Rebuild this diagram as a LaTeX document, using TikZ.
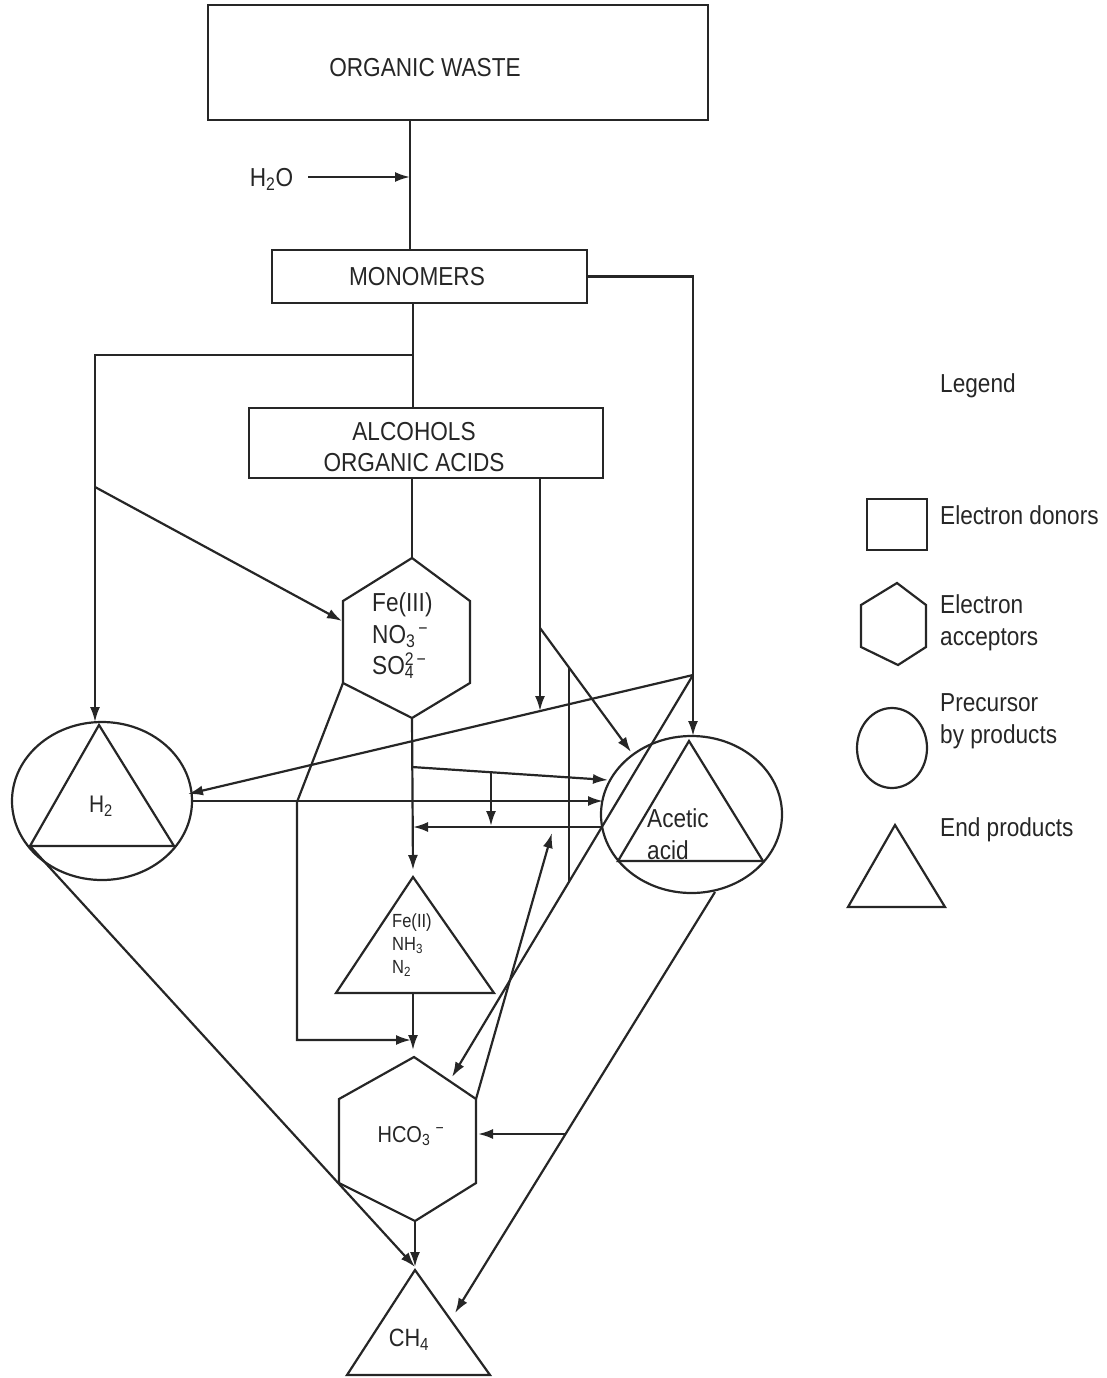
\documentclass[tikz,border=0pt]{standalone}
\usepackage{fontspec}
\setmainfont{Liberation Sans}[FakeStretch=0.87]
\usetikzlibrary{arrows.meta,shapes.geometric}
\newcommand{\ionsub}[2]{\rlap{\textsubscript{#1}}\textsuperscript{#2}}
\tikzset{
	flow/.style={line width=2.2pt, draw=black!85},
	box/.style={draw=black!85, line width=2.2pt, rectangle, inner sep=0pt},
	blob/.style={draw=black!85, line width=2.2pt, ellipse, inner sep=0pt},
	lbl/.style={text=black!85, font=\fontsize{26}{31.5}\selectfont, inner sep=0pt},
	small/.style={text=black!85, font=\fontsize{19}{23}\selectfont, inner sep=0pt}
}
\begin{document}
\begin{tikzpicture}[x=1pt, y=-1pt, >={Latex[length=15pt,width=10pt]}]
	\useasboundingbox (0,0) rectangle (1107,1378);

	% donors
	\node[box, minimum width=500pt, minimum height=115pt]	(waste) at (458,62.5) {};
	\node[lbl]	(wastetxt) at (425,68) {ORGANIC WASTE};
	\node[box, minimum width=315pt, minimum height=53pt]	(mono) at (429.5,276.5) {};
	\node[lbl]	(monotxt) at (417,277) {MONOMERS};
	\node[box, minimum width=354pt, minimum height=70pt]	(alco) at (426,443) {};
	\node[lbl, align=center]	(alcotxt) at (414,447) {ALCOHOLS\\ORGANIC ACIDS};
	\node[lbl]	(h2o) at (271.5,179) {H\textsubscript{2}O};

	% acceptors
	\coordinate (fe3-t) at (412,558);	\coordinate (fe3-ur) at (470,601);
	\coordinate (fe3-lr) at (470,683);	\coordinate (fe3-b) at (412,718);
	\coordinate (fe3-ll) at (343,683);	\coordinate (fe3-ul) at (343,601);
	\draw[flow] (fe3-t) -- (fe3-ur) -- (fe3-lr) -- (fe3-b) -- (fe3-ll) -- (fe3-ul) -- cycle;
	\node[lbl, anchor=west, align=left]	(fe3txt) at (372,636) {Fe(III)\\NO\textsubscript{3}\textsuperscript{\,−}\\SO\ionsub{4}{2\,−}};

	\coordinate (hco3-t) at (414,1057);	\coordinate (hco3-ur) at (476,1099);
	\coordinate (hco3-lr) at (476,1183);	\coordinate (hco3-b) at (415,1221);
	\coordinate (hco3-ll) at (339,1183);	\coordinate (hco3-ul) at (339,1099);
	\draw[flow] (hco3-t) -- (hco3-ur) -- (hco3-lr) -- (hco3-b) -- (hco3-ll) -- (hco3-ul) -- cycle;
	\node[lbl, font=\fontsize{23}{27}\selectfont]	(hco3txt) at (411,1136) {HCO\textsubscript{3}\textsuperscript{\,\,−}};

	% precursors and end products
	\node[blob, minimum width=180pt, minimum height=158pt]	(h2) at (102,801) {};
	\coordinate (h2-t) at (99,725);	\coordinate (h2-bl) at (30,846);	\coordinate (h2-br) at (174,846);
	\draw[flow] (h2-t) -- (h2-br) -- (h2-bl) -- cycle;
	\node[lbl, font=\fontsize{24}{28}\selectfont]	(h2txt) at (101,806) {H\textsubscript{2}};

	\node[blob, minimum width=181pt, minimum height=157pt]	(ace) at (691.5,814.5) {};
	\coordinate (ace-t) at (689,741);	\coordinate (ace-bl) at (618,861);	\coordinate (ace-br) at (763,861);
	\draw[flow] (ace-t) -- (ace-br) -- (ace-bl) -- cycle;
	\node[lbl, anchor=west, align=left, font=\fontsize{26}{32}\selectfont]	(acetxt) at (647,834) {Acetic\\acid};

	\coordinate (fe2-t) at (413,877);	\coordinate (fe2-bl) at (336,993);	\coordinate (fe2-br) at (494,993);
	\draw[flow] (fe2-t) -- (fe2-br) -- (fe2-bl) -- cycle;
	\node[small, anchor=west, align=left]	(fe2txt) at (392,945) {Fe(II)\\NH\textsubscript{3}\\N\textsubscript{2}};

	\coordinate (ch4-t) at (415,1270);	\coordinate (ch4-bl) at (347,1375);	\coordinate (ch4-br) at (490,1375);
	\draw[flow] (ch4-t) -- (ch4-br) -- (ch4-bl) -- cycle;
	\node[lbl, font=\fontsize{25}{30}\selectfont]	(ch4txt) at (409,1340) {CH\textsubscript{4}};

	% junctions and arrow tips
	\coordinate (wm) at (410,177);
	\coordinate (ma) at (413,355);
	\coordinate (hl) at (95,487);
	\coordinate (h2N) at (95,722);
	\coordinate (fe3in) at (342,621);
	\coordinate (ar) at (540,628);
	\coordinate (aj) at (540,711);
	\coordinate (aceNW) at (631,752);
	\coordinate (aceN) at (693,736);
	\coordinate (mr) at (693,675);
	\coordinate (h2E) at (188,794);
	\coordinate (hco3in) at (452,1077);
	\coordinate (va) at (569,668);
	\coordinate (vb) at (569,882);
	\coordinate (fe2in) at (413,870);
	\coordinate (fb) at (412,767);
	\coordinate (aceW1) at (608,780);
	\coordinate (fbd) at (491,772);
	\coordinate (qd) at (491,826);
	\coordinate (aceW2) at (603,801);
	\coordinate (aceW3) at (601,827);
	\coordinate (qm) at (413,827);
	\coordinate (qu) at (552,833);
	\coordinate (lk) at (297,802);
	\coordinate (lb) at (297,1040);
	\coordinate (hco3top) at (411,1040);
	\coordinate (fe2out) at (413,993);
	\coordinate (hco3in2) at (413,1050);
	\coordinate (ch4in) at (415,1267);
	\coordinate (ab) at (715,892);
	\coordinate (ch4R) at (455,1313);
	\coordinate (aw) at (566,1134);
	\coordinate (hco3R) at (478,1134);

	% connectors
	\draw[flow]		(waste.south -| wm) to (mono.north -| wm);
	\draw[flow, ->]	([xshift=15pt]h2o.east |- wm) to (wm);
	\draw[flow, ->]	(mono.east) -| (aceN);
	\draw[flow]		(mono.south -| ma) to (alco.north -| ma);
	\draw[flow, ->]	(ma) -| (h2N);
	\draw[flow, ->]	(hl) to (fe3in);
	\draw[flow]		(alco.south -| fe3-t) to (fe3-t);
	\draw[flow, ->]	(alco.south -| ar) to (aj);
	\draw[flow, ->]	(ar) to (aceNW);
	\draw[flow, ->]	(mr) to (h2E);
	\draw[flow, ->]	(mr) to (hco3in);
	\draw[flow]		(va) to (vb);
	\draw[flow, ->]	(fe3-b) to (fe2in);
	\draw[flow, ->]	(fb) to (aceW1);
	\draw[flow, ->]	(fbd) to (qd);
	\draw[flow, ->]	(h2.east) to (aceW2);
	\draw[flow, ->]	(aceW3) to (qm);
	\draw[flow, ->]	(hco3-ur) to (qu);
	\draw[flow, ->]	(fe3-ll) -- (lk) -- (lb) -- (hco3top);
	\draw[flow, ->]	(fe2out) to (hco3in2);
	\draw[flow, ->]	(hco3-b) to (ch4in);
	\draw[flow, ->]	(h2-bl) to (ch4in);
	\draw[flow, ->]	(ab) to (ch4R);
	\draw[flow, ->]	(aw) to (hco3R);

	% legend
	\node[lbl, anchor=west]	(legend) at (940,386) {Legend};
	\node[box, minimum width=60pt, minimum height=51pt]	(lg-box) at (897,524.5) {};
	\node[lbl, anchor=west]	(lg-boxtxt) at (940,515) {Electron donors};
	\coordinate (lg-t) at (897,583);	\coordinate (lg-ur) at (926,605);
	\coordinate (lg-lr) at (926,647);	\coordinate (lg-b) at (898,665);
	\coordinate (lg-ll) at (861,647);	\coordinate (lg-ul) at (861,605);
	\draw[flow] (lg-t) -- (lg-ur) -- (lg-lr) -- (lg-b) -- (lg-ll) -- (lg-ul) -- cycle;
	\node[lbl, anchor=west, align=left, font=\fontsize{26}{32}\selectfont]	(lg-hextxt) at (940,623) {Electron\\acceptors};
	\node[blob, minimum width=70pt, minimum height=80pt]	(lg-circ) at (892,748) {};
	\node[lbl, anchor=west, align=left, font=\fontsize{26}{32}\selectfont]	(lg-circtxt) at (940,721) {Precursor\\by products};
	\coordinate (lg-tt) at (895,825);	\coordinate (lg-tl) at (848,907);	\coordinate (lg-tr) at (945,907);
	\draw[flow] (lg-tt) -- (lg-tr) -- (lg-tl) -- cycle;
	\node[lbl, anchor=west]	(lg-tritxt) at (940,830) {End products};
\end{tikzpicture}
\end{document}
